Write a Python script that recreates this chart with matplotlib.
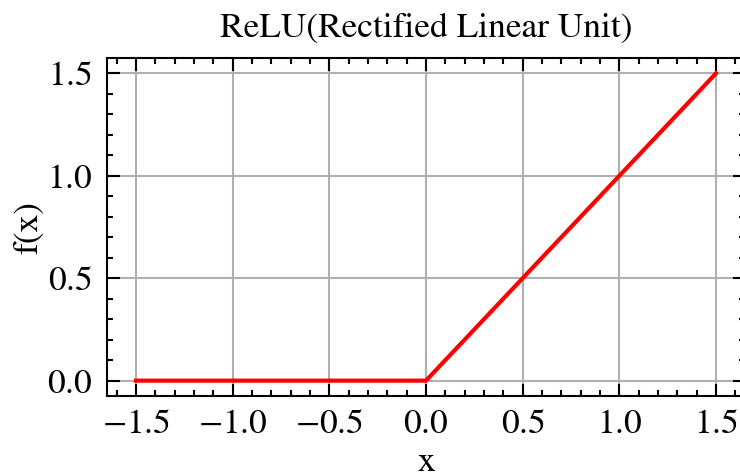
import matplotlib
matplotlib.use("Agg")
import matplotlib.pyplot as plt
from matplotlib.ticker import MultipleLocator, FuncFormatter

# ReLU breakpoints
x = [-1.5, 0.0, 1.5]
y = [0.0, 0.0, 1.5]

plt.rcParams['font.family'] = ['STIXGeneral', 'Liberation Serif', 'DejaVu Serif']
plt.rcParams['mathtext.fontset'] = 'stix'
plt.rcParams['font.size'] = 8.5
plt.rcParams['axes.titlesize'] = 8.5
plt.rcParams['axes.labelsize'] = 8.5
plt.rcParams['axes.linewidth'] = 0.5
plt.rcParams['xtick.direction'] = 'in'
plt.rcParams['ytick.direction'] = 'in'
plt.rcParams['xtick.major.size'] = 3
plt.rcParams['ytick.major.size'] = 3
plt.rcParams['xtick.minor.size'] = 1.5
plt.rcParams['ytick.minor.size'] = 1.5
plt.rcParams['xtick.major.width'] = 0.5
plt.rcParams['ytick.major.width'] = 0.5
plt.rcParams['xtick.minor.width'] = 0.5
plt.rcParams['ytick.minor.width'] = 0.5
plt.rcParams['xtick.top'] = True
plt.rcParams['ytick.right'] = True


def TickFmt(v, pos):
    return '$%.1f$' % v


fig = plt.figure(figsize=(740 / 300, 475 / 300), dpi=300)
ax = fig.add_axes([107 / 740, 79 / 475, 638 / 740, 338 / 475])

ax.plot(x, y, color='red', lw=1.0)
ax.set_xlim(-1.65, 1.65)
ax.set_ylim(-0.075, 1.575)
ax.xaxis.set_major_locator(MultipleLocator(0.5))
ax.xaxis.set_minor_locator(MultipleLocator(0.1))
ax.yaxis.set_major_locator(MultipleLocator(0.5))
ax.yaxis.set_minor_locator(MultipleLocator(0.1))
ax.xaxis.set_major_formatter(FuncFormatter(TickFmt))
ax.yaxis.set_major_formatter(FuncFormatter(TickFmt))
ax.tick_params(axis='x', which='major', pad=3)
ax.grid(True, color='#b0b0b0', lw=0.5)
ax.set_axisbelow(True)

ax.set_title('ReLU(Rectified Linear Unit)', pad=5)
ax.set_xlabel('x', labelpad=1.5)
ax.set_ylabel('f(x)', labelpad=0.5)

fig.savefig('out.png', dpi=300)
